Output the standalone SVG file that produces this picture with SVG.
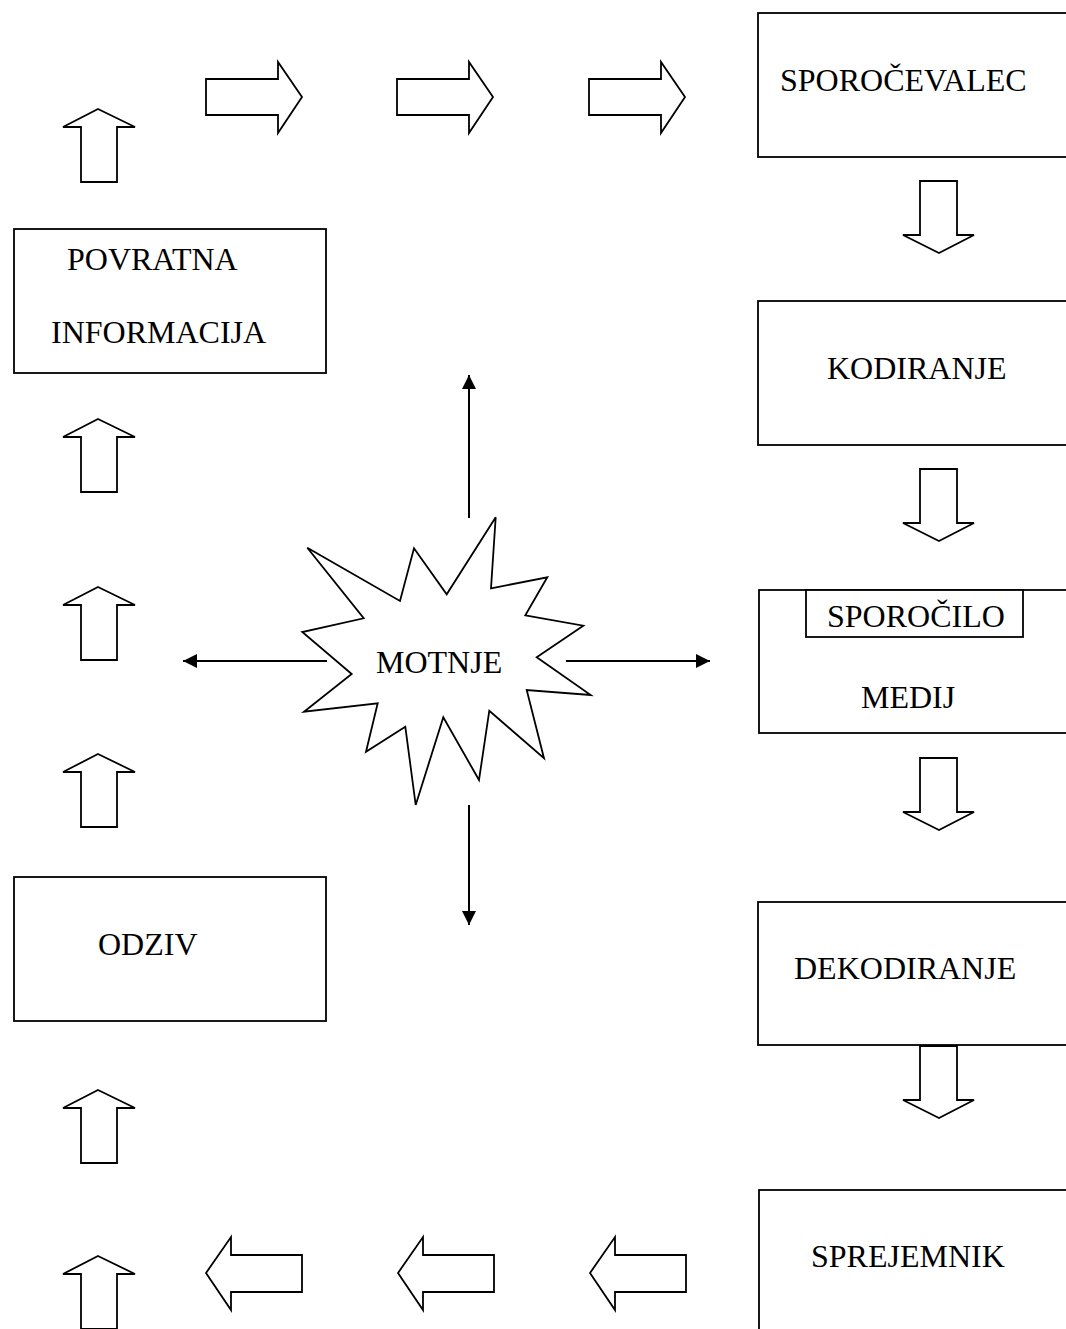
<svg xmlns="http://www.w3.org/2000/svg" width="1066" height="1329" viewBox="0 0 1066 1329">
<style>
.box{fill:#fff;stroke:#000;stroke-width:1.8}
.blk{fill:#fff;stroke:#000;stroke-width:1.8;stroke-linejoin:miter}
.t{font-family:"Liberation Serif","Times New Roman",serif;font-size:32px;fill:#000}
.ln{stroke:#000;stroke-width:2;fill:none}
</style>
<defs>
<marker id="ah" viewBox="0 0 10 10" refX="10" refY="5" markerWidth="15" markerHeight="14" markerUnits="userSpaceOnUse" orient="auto">
<path d="M0,0 L10,5 L0,10 z" fill="#000"/>
</marker>
<path id="ra" d="M0,17 H72 V0 L96,35 L72,71 V53 H0 Z"/>
<path id="la" d="M96,18 H25 V0 L0,36 L25,73 V55 H96 Z"/>
<path id="ua" d="M35,0 L72,18 H54 V73 H18 V18 H0 Z"/>
<path id="da" d="M17,0 H54 V54 H71 L36,72 L0,54 H17 Z"/>
</defs>
<rect width="1066" height="1329" fill="#fff"/>

<g id="sporocevalec"><rect class="box" x="758" y="13" width="320" height="144"/><text class="t" x="780" y="91">SPOROČEVALEC</text></g>
<g id="kodiranje"><rect class="box" x="758" y="301" width="320" height="144"/><text class="t" x="827" y="379">KODIRANJE</text></g>
<g id="medij"><rect class="box" x="759" y="590" width="320" height="143"/><rect class="box" x="806" y="590" width="217" height="47"/><text class="t" x="827" y="627">SPOROČILO</text><text class="t" x="861" y="708">MEDIJ</text></g>
<g id="dekodiranje"><rect class="box" x="758" y="902" width="320" height="143"/><text class="t" x="794" y="979">DEKODIRANJE</text></g>
<g id="sprejemnik"><rect class="box" x="759" y="1190" width="320" height="160"/><text class="t" x="811" y="1267">SPREJEMNIK</text></g>
<g id="povratna"><rect class="box" x="14" y="229" width="312" height="144"/><text class="t" x="67" y="270">POVRATNA</text><text class="t" x="51" y="343">INFORMACIJA</text></g>
<g id="odziv"><rect class="box" x="14" y="877" width="312" height="144"/><text class="t" x="98" y="955">ODZIV</text></g>
<g id="motnje">
<path class="blk" d="M495.7,517.3 L491,588.3 L547.3,577.3 L525.3,615.3 L583.3,625.7 L536.7,657.3 L590.7,695 L526.7,690 L544,758.3 L489.3,710.7 L479,780 L443.3,717.3 L415.7,805 L405.3,726.7 L366,751.7 L377.7,703.3 L304,711.7 L351.7,674 L302.3,632 L363.7,618.3 L307.3,547.7 L400,601 L414,548.3 L446.7,594.3 Z"/>
<text class="t" x="376" y="673">MOTNJE</text>
</g>

<g id="connectors">
<use href="#ra" class="blk" x="206" y="62"/>
<use href="#ra" class="blk" x="397" y="62"/>
<use href="#ra" class="blk" x="589" y="62"/>
<use href="#da" class="blk" x="903" y="181"/>
<use href="#da" class="blk" x="903" y="469"/>
<use href="#da" class="blk" x="903" y="758"/>
<use href="#da" class="blk" x="903" y="1046"/>
<use href="#la" class="blk" x="206" y="1237"/>
<use href="#la" class="blk" x="398" y="1237"/>
<use href="#la" class="blk" x="590" y="1237"/>
<use href="#ua" class="blk" x="63" y="109"/>
<use href="#ua" class="blk" x="63" y="419"/>
<use href="#ua" class="blk" x="63" y="587"/>
<use href="#ua" class="blk" x="63" y="754"/>
<use href="#ua" class="blk" x="63" y="1090"/>
<use href="#ua" class="blk" x="63" y="1256"/>
<line class="ln" x1="469" y1="518" x2="469" y2="375" marker-end="url(#ah)"/>
<line class="ln" x1="469" y1="805" x2="469" y2="925" marker-end="url(#ah)"/>
<line class="ln" x1="327" y1="661" x2="183" y2="661" marker-end="url(#ah)"/>
<line class="ln" x1="566" y1="661" x2="710" y2="661" marker-end="url(#ah)"/>
</g>
</svg>
